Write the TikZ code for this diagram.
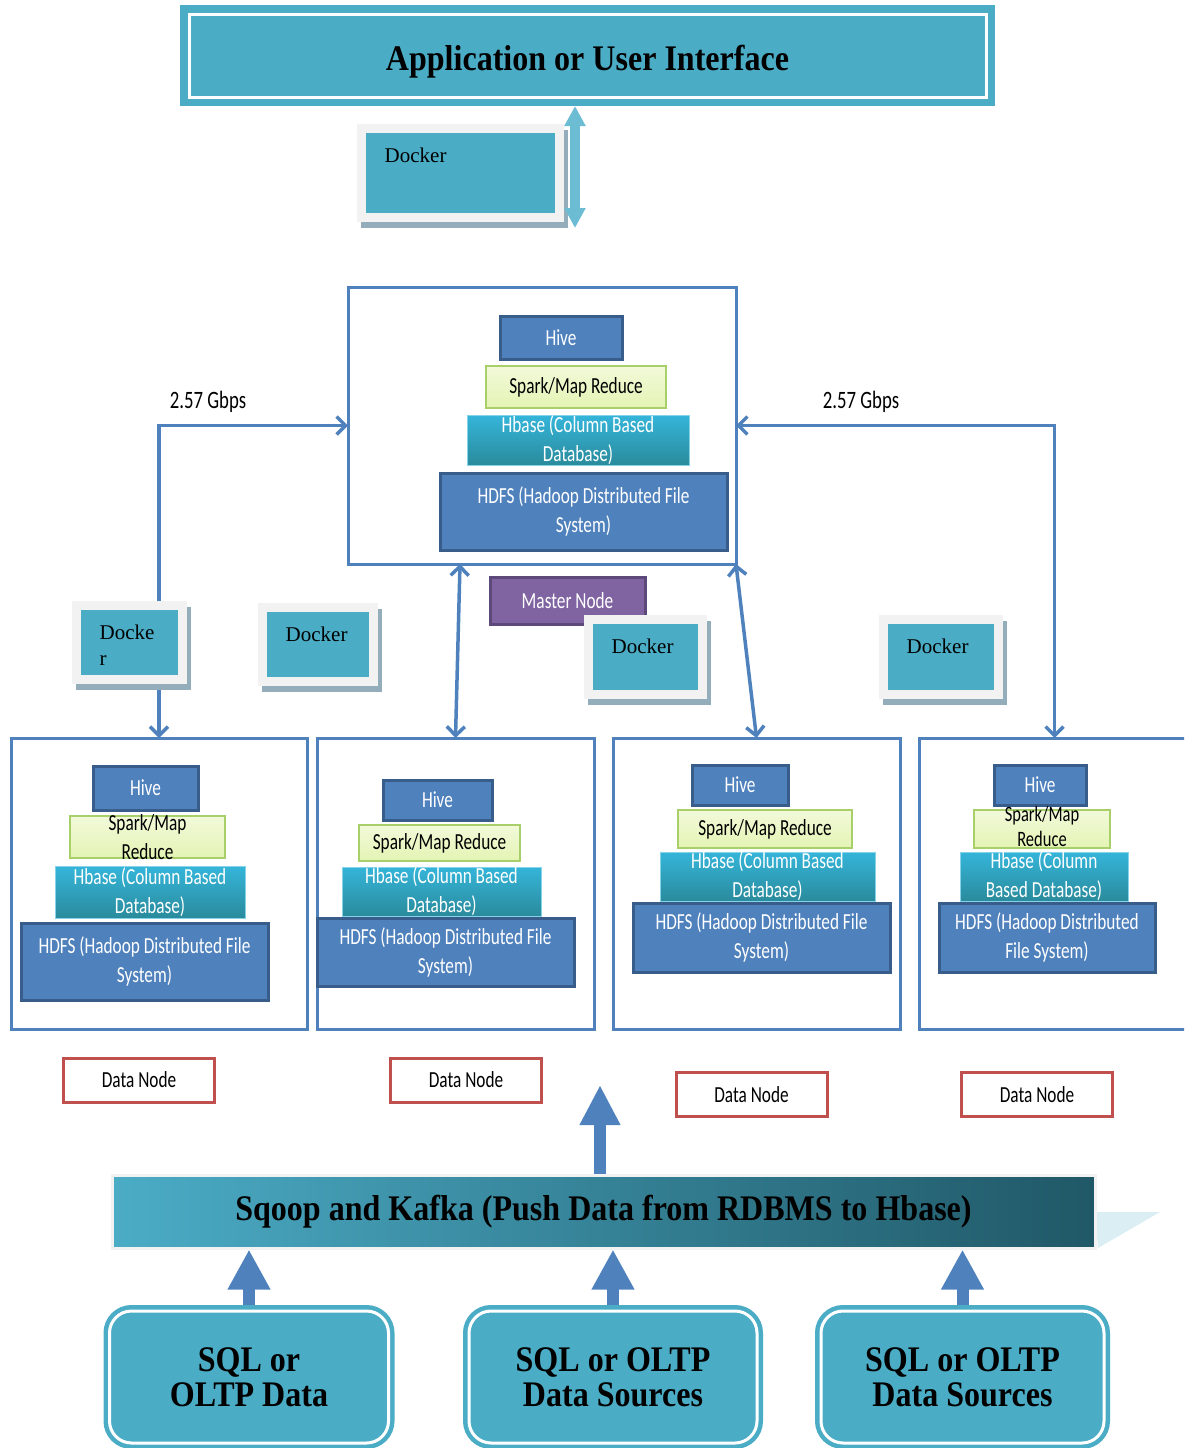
\documentclass[tikz,border=0pt]{standalone}
\usepackage{fontspec}
\setmainfont{Liberation Serif}
\newfontfamily\boxfont[FakeStretch=0.75]{Carlito}
\newfontfamily\headfont[FakeStretch=0.89]{Liberation Serif}
\usetikzlibrary{arrows.meta,positioning}

\definecolor{tealbox}{HTML}{4BACC6}
\definecolor{linkblue}{HTML}{4F81BD}
\definecolor{hiveedge}{HTML}{385D8A}
\definecolor{sparkfill}{HTML}{E4F4B4}
\definecolor{sparkedge}{HTML}{A9CF6A}
\definecolor{hbasetop}{HTML}{35B5DA}
\definecolor{hbasebot}{HTML}{2A8B9C}
\definecolor{masterfill}{HTML}{8064A2}
\definecolor{masteredge}{HTML}{5E4A7A}
\definecolor{tagred}{HTML}{C0504D}
\definecolor{framegray}{HTML}{F2F2F2}
\definecolor{shadowblue}{HTML}{93AEBA}
\definecolor{sqoopdark}{HTML}{205867}
\definecolor{foldblue}{HTML}{DAEEF3}
\definecolor{updownfill}{HTML}{6CBCD4}

\begin{document}
\begin{tikzpicture}[
  x=1pt, y=-1pt,
  boxtext/.style={font=\boxfont\fontsize{23}{29}\selectfont, align=center},
  cluster/.style={draw=linkblue, line width=3pt, inner sep=0pt, outer sep=0pt},
  hivebox/.style={boxtext, fill=linkblue, draw=hiveedge, line width=3pt,
                  text=white, inner sep=0pt},
  sparkbox/.style={boxtext, top color=sparkfill!50!white, bottom color=sparkfill,
                   draw=sparkedge, line width=2pt, inner sep=0pt},
  hbasebox/.style={boxtext, top color=hbasetop, bottom color=hbasebot,
                   draw=hbasetop!60!white, line width=1pt, text=white, inner sep=0pt},
  hdfsbox/.style={hivebox},
  mastertag/.style={boxtext, fill=masterfill, draw=masteredge, line width=3pt,
                    text=white, inner sep=0pt},
  dntag/.style={boxtext, draw=tagred, line width=3pt, fill=white, inner sep=0pt,
                minimum width=151pt, minimum height=44pt},
  dockerbox/.style={fill=tealbox, draw=framegray, line width=9pt, outer sep=0pt,
                    inner sep=0pt,
                    preaction={draw=shadowblue, line width=9pt,
                               transform canvas={shift={(4pt,-6pt)}}}},
  dockertext/.style={font=\fontsize{21}{26}\selectfont, anchor=north west,
                     inner sep=0pt, align=left, xshift=23pt, yshift=-19pt},
  rate/.style={font=\boxfont\fontsize{25}{28}\selectfont},
  linkarrow/.style={draw=linkblue, line width=3.5pt,
                    {Straight Barb[length=9pt,width=18pt]}-{Straight Barb[length=9pt,width=18pt]}},
  feedarrow/.style={draw=linkblue, line width=12pt, -{Triangle[length=40pt,width=40pt]}},
  updown/.style={draw=updownfill, line width=10pt,
                 {Triangle[length=20pt,width=20pt]}-{Triangle[length=20pt,width=20pt]}},
  headtext/.style={font=\headfont\bfseries\fontsize{36}{35}\selectfont, align=center},
  sourcebox/.style={headtext, fill=tealbox, draw=white, line width=3pt,
                    rounded corners=22pt, preaction={draw=tealbox, line width=12pt},
                    outer sep=6pt, minimum height=132pt, inner sep=0pt}
]
\useasboundingbox (0,0) rectangle (1184,1448);
\clip (0,0) rectangle (1184,1448);

\node[headtext, fill=tealbox, draw=white, line width=3pt,
      preaction={draw=tealbox, line width=18pt}, outer sep=9pt,
      minimum width=797pt, minimum height=83pt, text depth=0pt, text height=30pt]
  (uiBanner) at (587.5,55.5) {Application or User Interface};

% master node
\node[cluster, minimum width=388pt, minimum height=277pt] (master) at (542,425.5) {};
\node[hivebox, minimum width=122pt, minimum height=43pt] (hiveM) at (561,337.5) {Hive};
\node[sparkbox, minimum width=180pt, minimum height=42pt] (sparkM) at (576,387) {Spark/Map Reduce};
\node[hbasebox, minimum width=222pt, minimum height=50pt] (hbaseM) at (578,440) {Hbase (Column Based\\Database)};
\node[hdfsbox, minimum width=287pt, minimum height=77pt] (hdfsM) at (583.5,511.5) {HDFS (Hadoop Distributed File\\System)};

% data nodes
\node[cluster, minimum width=296pt, minimum height=291pt] (dnA) at (159,883.5) {};
\node[hivebox, minimum width=105pt, minimum height=44pt] (hiveA) at (145.5,788) {Hive};
\node[sparkbox, minimum width=155pt, minimum height=42pt,
      label={[boxtext]center:Spark/Map\\Reduce}] (sparkA) at (147.5,837) {};
\node[hbasebox, minimum width=190pt, minimum height=52pt] (hbaseA) at (150,892) {Hbase (Column Based\\Database)};
\node[hdfsbox, minimum width=247pt, minimum height=77pt] (hdfsA) at (144.5,961.5) {HDFS (Hadoop Distributed File\\System)};

\node[cluster, minimum width=277pt, minimum height=291pt] (dnB) at (455.5,883.5) {};
\node[hivebox, minimum width=109pt, minimum height=40pt] (hiveB) at (437.5,800) {Hive};
\node[sparkbox, minimum width=161pt, minimum height=36pt] (sparkB) at (439.5,843) {Spark/Map Reduce};
\node[hbasebox, minimum width=199pt, minimum height=47pt] (hbaseB) at (441.5,891.5) {Hbase (Column Based\\Database)};
\node[hdfsbox, minimum width=257pt, minimum height=68pt] (hdfsB) at (445.5,952) {HDFS (Hadoop Distributed File\\System)};

\node[cluster, minimum width=287pt, minimum height=291pt] (dnC) at (756.5,883.5) {};
\node[hivebox, minimum width=96pt, minimum height=40pt] (hiveC) at (740,785) {Hive};
\node[sparkbox, minimum width=174pt, minimum height=38pt] (sparkC) at (765,829) {Spark/Map Reduce};
\node[hbasebox, minimum width=215pt, minimum height=47pt] (hbaseC) at (767.5,876.5) {Hbase (Column Based\\Database)};
\node[hdfsbox, minimum width=257pt, minimum height=69pt] (hdfsC) at (761.5,937.5) {HDFS (Hadoop Distributed File\\System)};

\node[cluster, minimum width=271pt, minimum height=291pt] (dnD) at (1054.5,883.5) {};
\node[hivebox, minimum width=92pt, minimum height=40pt] (hiveD) at (1040,785) {Hive};
\node[sparkbox, minimum width=136pt, minimum height=38pt,
      label={[boxtext, font=\boxfont\fontsize{22}{25}\selectfont, inner sep=0pt, yshift=3pt]center:Spark/Map\\Reduce}] (sparkD) at (1042,829) {};
\node[hbasebox, minimum width=168pt, minimum height=47pt] (hbaseD) at (1044,876.5) {Hbase (Column\\Based Database)};
\node[hdfsbox, minimum width=216pt, minimum height=69pt] (hdfsD) at (1047,937.5) {HDFS (Hadoop Distributed\\File System)};

% links between master and data nodes
\draw[linkarrow] (dnA.north) |- (master.west);
\draw[linkarrow] (dnD.north) |- (master.east);
\draw[linkarrow] ([xshift=-82pt]master.south) -- (dnB.north);
\draw[linkarrow] (master.south east) -- (dnC.north);
\node[rate] (rateLeft) at (208,402) {2.57 Gbps};
\node[rate] (rateRight) at (861,402) {2.57 Gbps};

\node[mastertag, minimum width=155pt, minimum height=47pt] (masterTag) at (567.5,600.5) {Master Node};

% docker containers
\node[dockerbox, minimum width=198pt, minimum height=89pt,
      label={[dockertext]north west:Docker}] (dockTop) at (460.5,173) {};
\node[dockerbox, minimum width=106pt, minimum height=74pt,
      label={[dockertext]north west:Docke\\r}] (dockA) at (129.5,642.5) {};
\node[dockerbox, minimum width=111pt, minimum height=74pt,
      label={[dockertext]north west:Docker}] (dockB) at (318,644.5) {};
\node[dockerbox, minimum width=114pt, minimum height=75pt,
      label={[dockertext]north west:Docker}] (dockC) at (645.5,657) {};
\node[dockerbox, minimum width=115pt, minimum height=75pt,
      label={[dockertext]north west:Docker}] (dockD) at (941,657) {};

\coordinate (uiDrop) at (575,228);
\draw[updown] (uiDrop |- uiBanner.south) -- (uiDrop);

\node[dntag] (tagA) at (139,1080) {Data Node};
\node[dntag] (tagB) at (466,1080) {Data Node};
\node[dntag] (tagC) at (751.5,1094.5) {Data Node};
\node[dntag] (tagD) at (1037,1094.5) {Data Node};

% ingestion
\fill[foldblue] (1095,1212) -- (1160,1212) -- (1098,1248) -- cycle;
\node[headtext, left color=tealbox, right color=sqoopdark, draw=framegray,
      line width=3pt, minimum width=983pt, minimum height=73pt]
  (sqoop) at (603.5,1211.5) {Sqoop and Kafka (Push Data from RDBMS to Hbase)};

\node[sourcebox, minimum width=279pt] (srcA) at (249,1377) {SQL or\\OLTP Data};
\node[sourcebox, minimum width=288pt] (srcB) at (613,1377) {SQL or OLTP\\Data Sources};
\node[sourcebox, minimum width=283pt] (srcC) at (962.5,1377) {SQL or OLTP\\Data Sources};

\draw[feedarrow] (srcA.north) -- (srcA.north |- sqoop.south);
\draw[feedarrow] (srcB.north) -- (srcB.north |- sqoop.south);
\draw[feedarrow] (srcC.north) -- (srcC.north |- sqoop.south);

\coordinate (feedTop) at (600,1085);
\draw[feedarrow, -{Triangle[length=40pt,width=38pt]}] (feedTop |- sqoop.north) -- (feedTop);
\end{tikzpicture}
\end{document}
